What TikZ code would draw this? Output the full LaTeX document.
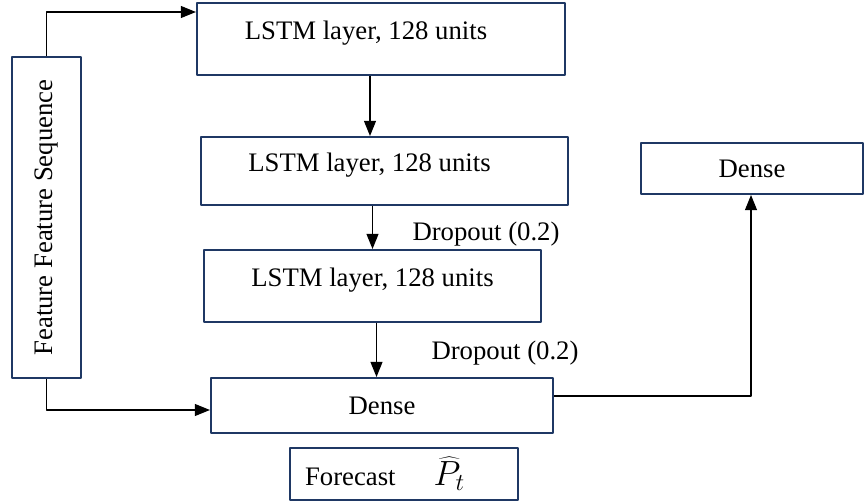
\documentclass[tikz,border=0pt]{standalone}
\usepackage{fontspec}
\setmainfont{Liberation Serif}
\usetikzlibrary{arrows.meta,calc}
\definecolor{boxblue}{HTML}{1F3864}
\tikzset{
  layerbox/.style={draw=boxblue,line width=1.4pt,inner sep=0pt,font=\fontsize{19}{22}\selectfont},
  raised/.style={text height=0.46cm,text depth=0.44cm},
  droplabel/.style={font=\fontsize{19}{22}\selectfont},
  flow/.style={-{Triangle[length=0.38cm,width=0.3cm]},line width=0.9pt}
}
\begin{document}
\begin{tikzpicture}[x=0.025cm,y=-0.025cm,line join=round]
            \useasboundingbox (0,0) rectangle (866,503);
            % layers
            \node[layerbox,raised,minimum width=9.2cm,minimum height=1.8cm] (lstma) at (381,39) {LSTM layer, 128 units\kern0.75cm};
            \node[layerbox,raised,minimum width=9.175cm,minimum height=1.7cm] (lstmb) at (384.5,171) {LSTM layer, 128 units\kern0.75cm};
            \node[layerbox,raised,minimum width=8.425cm,minimum height=1.8cm] (lstmc) at (372.5,286) {LSTM layer, 128 units};
            \node[layerbox,minimum width=8.55cm,minimum height=1.375cm] (dense) at (382,405.5) {Dense};
            \node[layerbox,minimum width=5.7cm,minimum height=1.3cm] (fcast) at (404,474) {Forecast\hspace{0.95cm}{\fontsize{24}{26}\selectfont$\widehat{P}_t$}\kern0.95cm};
            \node[layerbox,minimum width=5.55cm,minimum height=1.275cm] (denser) at (752,168.5) {Dense};
            \node[layerbox,rotate=90,minimum width=8.025cm,minimum height=1.725cm] (feat) at (46.5,217.5) {Feature Feature Sequence};
            \node[droplabel] (dropa) at (486,234) {Dropout (0.2)};
            \node[droplabel] (dropb) at (505,353) {Dropout (0.2)};
            % connectors
            \coordinate (ta) at ($(lstma.south)+(-11,0)$);
            \coordinate (tb) at ($(lstmb.south)+(-12,0)$);
            \coordinate (tc) at ($(lstmc.south)+(4,0)$);
            \draw[flow] (feat.east) |- ($(lstma.north west)+(0,10)$);
            \draw[flow] (feat.west) |- ($(dense.west)+(0,4.5)$);
            \draw[flow] (ta) -- (ta |- lstmb.north);
            \draw[flow] (tb) -- (tb |- lstmc.north);
            \draw[flow] (tc) -- (tc |- dense.north);
            \draw[flow] ($(dense.east)+(0,-9.5)$) -| ($(denser.south)+(-1,0)$);
\end{tikzpicture}
\end{document}
